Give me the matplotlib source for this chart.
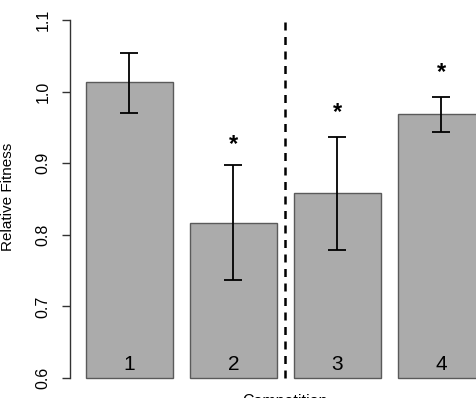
"""Bar chart of relative fitness by competition, with error bars"""

import matplotlib
matplotlib.use("Agg")
import matplotlib.pyplot as plt

plt.rcParams["font.family"] = ["Liberation Sans", "DejaVu Sans"]

# data
groups = ["1", "2", "3", "4"]
fitness = [1.013, 0.817, 0.858, 0.969]
err_low = [0.970, 0.737, 0.779, 0.944]
err_high = [1.054, 0.897, 0.937, 0.993]
starred = [False, True, True, True]
star_y = [None, 0.926, 0.971, 1.026]
y_ticks = [0.6, 0.7, 0.8, 0.9, 1.0, 1.1]

W, H = 476, 398
DPI = 100


def main():
    fig = plt.figure(figsize=(W / DPI, H / DPI), dpi=DPI)
    # axes region in pixels: x 70..476, y 5.7..392.3
    ax = fig.add_axes([70 / W, (H - 392.3) / H, (W - 70) / W, (392.3 - 5.7) / H])

    base = 0.6
    xs = [0.7 + 1.2 * i for i in range(len(groups))]
    heights = [v - base for v in fitness]
    ax.bar(xs, heights, bottom=base, width=1.0, color="#ababab",
           edgecolor="#5a5a5a", linewidth=1.0, zorder=2)

    lower = [v - lo for v, lo in zip(fitness, err_low)]
    upper = [hi - v for v, hi in zip(fitness, err_high)]
    ax.errorbar(xs, fitness, yerr=[lower, upper], fmt="none", ecolor="black",
                elinewidth=1.3, capsize=6.5, capthick=1.3, zorder=3)

    for x, s, sy in zip(xs, starred, star_y):
        if s:
            ax.text(x, sy, "*", ha="center", va="center", fontsize=17,
                    fontweight="bold", zorder=4)

    for x, g in zip(xs, groups):
        ax.text(x, 0.619, g, ha="center", va="center", fontsize=15, zorder=4)

    # dashed separator between the two groups of bars
    ax.plot([2.5, 2.5], [0.6, 1.1], color="black", linestyle=(0, (3.2, 2.6)),
            linewidth=1.8, zorder=1)
    ax.set_ylim(0.58, 1.12)
    ax.set_xlim(0.016, 0.016 + (W - 70) / 86.7)

    ax.spines["top"].set_visible(False)
    ax.spines["right"].set_visible(False)
    ax.spines["bottom"].set_visible(False)
    ax.spines["left"].set_bounds(0.6, 1.1)
    ax.spines["left"].set_color("#333333")
    ax.spines["left"].set_linewidth(1.0)

    ax.set_yticks(y_ticks)
    ax.set_yticklabels([f"{t:.1f}" for t in y_ticks], rotation=90, va="center")
    ax.tick_params(axis="y", direction="out", length=6, width=1.0,
                   color="#333333", pad=8, labelsize=11.5)
    ax.set_xticks([])

    fig.text(8 / W, (H - 196.5) / H, "Relative Fitness", rotation=90,
             ha="center", va="center", fontsize=11)
    fig.text(285 / W, (H - 394) / H, "Competition", ha="center", va="top",
             fontsize=11.5)

    fig.savefig("out.png", dpi=DPI)


if __name__ == "__main__":
    main()
